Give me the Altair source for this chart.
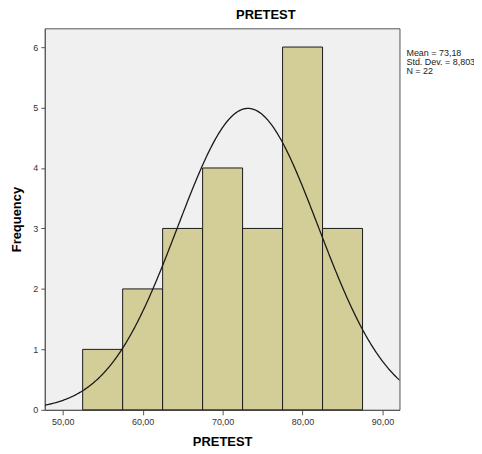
import altair as alt
import pandas as pd

# Histogram data
bin_start = [52.5, 57.5, 62.5, 67.5, 72.5, 77.5, 82.5]
bin_end = [57.5, 62.5, 67.5, 72.5, 77.5, 82.5, 87.5]
counts = [1, 2, 3, 4, 3, 6, 3]

# Summary statistics shown in the chart
mean_val = 73.18
sd_val = 8.803
n_val = 22
bin_width = 5.0

x_ticks = [50, 60, 70, 80, 90]
y_ticks = [0, 1, 2, 3, 4, 5, 6]
x_domain = [47.76, 92.12]
y_domain = [0, 6.31]

stats_lines = ["Mean = 73,18", "Std. Dev. = 8,803", "N = 22"]

FONT = "Liberation Sans"

bars_df = pd.DataFrame({"start": bin_start, "end": bin_end, "count": counts})
stats_df = pd.DataFrame({"line": stats_lines, "idx": [0, 1, 2]})

x_scale = alt.Scale(domain=x_domain, nice=False, zero=False)
y_scale = alt.Scale(domain=y_domain, nice=False)

x_axis = alt.Axis(
    values=x_ticks,
    labelExpr="datum.value + ',00'",
    grid=False,
    title="PRETEST",
    titleFontSize=13,
    titleFontWeight="bold",
    titleColor="#000000",
    titlePadding=9,
    labelFontSize=9,
    labelColor="#333333",
    labelPadding=3,
    tickSize=5,
    tickColor="#555555",
    domainColor="#555555",
)
y_axis = alt.Axis(
    values=y_ticks,
    format="d",
    grid=False,
    title="Frequency",
    titleFontSize=13,
    titleFontWeight="bold",
    titleColor="#000000",
    titlePadding=9,
    labelFontSize=9,
    labelColor="#333333",
    labelPadding=3,
    tickSize=4,
    tickColor="#555555",
    domainColor="#555555",
)

bars = alt.Chart(bars_df).mark_rect(
    fill="#D3CE97", stroke="#1a1a1a", strokeWidth=1
).encode(
    x=alt.X("start:Q", scale=x_scale, axis=x_axis),
    x2="end:Q",
    y=alt.Y("count:Q", scale=y_scale, axis=y_axis),
    y2=alt.datum(0),
)

curve = alt.Chart(
    alt.sequence(x_domain[0], x_domain[1] + 0.05, 0.1, as_="x")
).transform_calculate(
    y=f"{n_val * bin_width} * exp(-0.5 * pow((datum.x - {mean_val}) / {sd_val}, 2)) / ({sd_val} * sqrt(2 * PI))"
).mark_line(color="#1a1a1a", strokeWidth=1.3, clip=True).encode(
    x=alt.X("x:Q", scale=x_scale, axis=x_axis),
    y=alt.Y("y:Q", scale=y_scale, axis=y_axis),
)

stats = alt.Chart(stats_df).mark_text(
    align="left", baseline="middle", font=FONT, fontSize=9, color="#222222"
).encode(
    x=alt.value(364),
    y=alt.Y("idx:Q", scale=alt.Scale(domain=[0, 42.3], range=[25, 409]), axis=None),
    text="line:N",
)

base = alt.layer(bars, curve)

chart = alt.layer(base, stats).resolve_scale(y="independent").properties(
    padding={"left": 37, "top": 19, "right": 75, "bottom": 42},
    autosize=alt.AutoSizeParams(type="none"),
    title=alt.TitleParams(
        "PRETEST", fontSize=13, fontWeight="bold", font=FONT, color="#000000",
        dx=44, offset=6,
    ),
).configure(font=FONT).configure_view(
    fill="#F0F0F0", stroke="#555555", strokeWidth=1,
    continuousWidth=357, continuousHeight=384,
).configure_axis(labelFont=FONT, titleFont=FONT)

chart.save("out.html", embed_options={"renderer": "svg", "actions": False})
